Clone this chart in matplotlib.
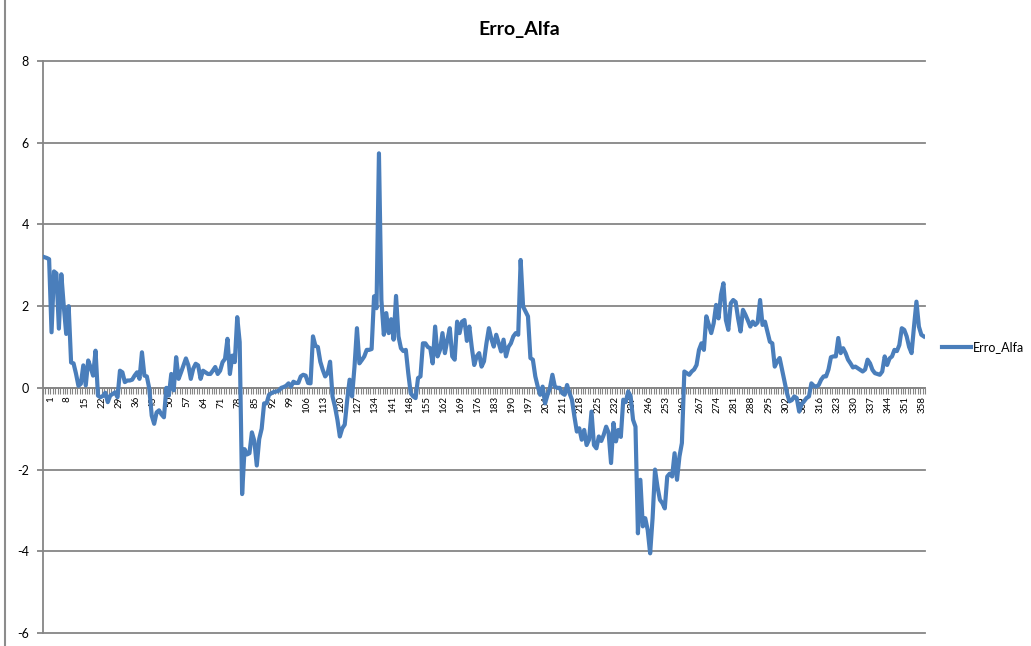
import matplotlib
matplotlib.use("Agg")
import matplotlib.pyplot as plt
import matplotlib.transforms as mtransforms
from matplotlib.lines import Line2D
import numpy as np

plt.rcParams['font.family'] = ['Lato', 'DejaVu Sans']

# Erro_Alfa, one value per observation
erro_alfa = [
    3.2, 3.18, 3.15, 1.36, 2.85, 2.8, 1.45, 2.78, 2.0, 1.32,
    2.0, 0.62, 0.6, 0.35, 0.05, 0.1, 0.55, 0.06, 0.67, 0.5,
    0.3, 0.91, -0.19, -0.23, -0.2, -0.12, -0.35, -0.19, -0.15, -0.11,
    -0.23, 0.42, 0.38, 0.14, 0.18, 0.18, 0.2, 0.3, 0.38, 0.22,
    0.87, 0.3, 0.28, -0.02, -0.68, -0.88, -0.6, -0.55, -0.65, -0.72,
    0.0, -0.19, 0.34, -0.06, 0.75, 0.22, 0.38, 0.55, 0.72, 0.55,
    0.22, 0.47, 0.59, 0.55, 0.22, 0.42, 0.38, 0.34, 0.34, 0.42,
    0.51, 0.34, 0.42, 0.63, 0.71, 1.2, 0.34, 0.79, 0.63, 1.73,
    1.12, -2.6, -1.5, -1.63, -1.6, -1.09, -1.3, -1.9, -1.25, -1.0,
    -0.38, -0.38, -0.17, -0.13, -0.1, -0.09, -0.07, 0.0, 0.02, 0.05,
    0.11, 0.03, 0.15, 0.12, 0.12, 0.28, 0.32, 0.3, 0.12, 0.11,
    1.26, 1.03, 1.0, 0.64, 0.44, 0.28, 0.36, 0.64, -0.21, -0.46,
    -0.78, -1.19, -0.99, -0.9, -0.3, 0.2, -0.21, 0.52, 1.46, 0.6,
    0.68, 0.77, 0.93, 0.93, 0.95, 2.24, 1.95, 5.74, 2.15, 1.3,
    1.83, 1.34, 1.68, 1.18, 2.25, 1.26, 0.97, 0.9, 0.93, 0.36,
    -0.13, -0.21, -0.25, 0.24, 0.28, 1.09, 1.09, 1.0, 0.97, 0.6,
    1.5, 0.77, 0.93, 1.34, 0.85, 1.17, 1.46, 0.77, 0.69, 1.62,
    1.34, 1.62, 1.66, 1.15, 1.5, 0.99, 0.56, 0.77, 0.85, 0.52,
    0.65, 1.09, 1.46, 1.2, 1.01, 1.3, 1.1, 0.89, 1.18, 0.77,
    1.0, 1.09, 1.26, 1.34, 1.3, 3.13, 1.99, 1.87, 1.75, 0.73,
    0.69, 0.28, 0.03, -0.17, 0.03, -0.38, -0.17, 0.0, 0.32, 0.03,
    0.0, 0.0, -0.13, -0.17, 0.07, -0.13, -0.29, -0.7, -1.07, -0.99,
    -1.27, -1.03, -1.4, -1.27, -0.58, -1.4, -1.48, -1.19, -1.3, -1.15,
    -0.95, -1.1, -1.84, -0.86, -1.31, -1.03, -1.2, -0.29, -0.35, -0.09,
    -0.2, -0.78, -0.95, -3.56, -2.25, -3.39, -3.19, -3.48, -4.05, -3.19,
    -2.0, -2.42, -2.74, -2.82, -2.95, -2.17, -2.1, -2.17, -1.6, -2.25,
    -1.68, -1.35, 0.4, 0.36, 0.32, 0.4, 0.45, 0.56, 0.93, 1.09,
    0.93, 1.75, 1.55, 1.34, 1.58, 2.03, 1.7, 2.28, 2.56, 1.66,
    1.42, 2.07, 2.15, 2.1, 1.7, 1.38, 1.91, 1.79, 1.65, 1.5,
    1.62, 1.54, 1.6, 2.15, 1.54, 1.62, 1.38, 1.13, 1.09, 0.52,
    0.65, 0.73, 0.44, 0.16, -0.13, -0.33, -0.3, -0.21, -0.25, -0.58,
    -0.4, -0.33, -0.25, -0.21, 0.11, 0.05, 0.03, 0.07, 0.2, 0.28,
    0.28, 0.45, 0.75, 0.77, 0.77, 1.22, 0.85, 0.97, 0.85, 0.69,
    0.6, 0.5, 0.52, 0.48, 0.44, 0.4, 0.45, 0.69, 0.6, 0.44,
    0.36, 0.34, 0.32, 0.4, 0.77, 0.56, 0.72, 0.77, 0.93, 0.9,
    1.05, 1.46, 1.42, 1.26, 1.0, 0.85, 1.5, 2.11, 1.5, 1.3,
    1.26,
]
categories = list(range(1, len(erro_alfa) + 1))
label_step = 7
y_ticks = [-6, -4, -2, 0, 2, 4, 6, 8]

grey = '#868686'
blue = '#4a7ebb'

W, H = 1031, 646
fig = plt.figure(figsize=(W / 100, H / 100), dpi=100)
ax = fig.add_axes([43 / W, 1 - 633 / H, (925 - 43) / W, (633 - 61) / H])

x = np.arange(len(erro_alfa))
ax.plot(x, erro_alfa, color=blue, lw=3.0, label='Erro_Alfa',
        solid_joinstyle='round', zorder=3)

ax.set_xlim(-0.5, len(erro_alfa) - 0.5)
ax.set_ylim(y_ticks[0], y_ticks[-1])
ax.set_yticks(y_ticks)
ax.set_yticklabels([str(v) for v in y_ticks], fontsize=9)
ax.yaxis.grid(True, color=grey, lw=1.3)
for gl in ax.get_ygridlines():
    gl.set_clip_on(False)
ax.set_axisbelow(True)
ax.tick_params(axis='y', direction='out', length=4, width=1.3, color=grey, pad=6)

for side in ('top', 'right'):
    ax.spines[side].set_visible(False)
ax.spines['left'].set_color(grey)
ax.spines['left'].set_linewidth(1.3)
ax.spines['bottom'].set_position(('data', 0))
ax.spines['bottom'].set_color(grey)
ax.spines['bottom'].set_linewidth(1.3)

# category axis: a tick between every category, a label every 7th
ax.set_xticks(x[::label_step])
ax.set_xticklabels([str(c) for c in categories[::label_step]],
                   rotation=90, fontsize=7)
ax.set_xticks(np.arange(-0.5, len(erro_alfa)), minor=True)
ax.tick_params(axis='x', which='major', length=0, pad=6)
ax.tick_params(axis='x', which='minor', direction='out', length=4,
               width=0.8, color=grey)
shift = mtransforms.ScaledTranslation(6 / 100, 0, fig.dpi_scale_trans)
for lbl in ax.get_xticklabels():
    lbl.set_transform(lbl.get_transform() + shift)

fig.text(0.504, 0.954, 'Erro_Alfa', ha='center', va='center',
         fontsize=14, fontweight='bold')

fig.legend(loc='center left', bbox_to_anchor=(942 / W, 1 - 347 / H),
           frameon=False, fontsize=9, handlelength=2.3, handletextpad=0.15,
           borderpad=0, borderaxespad=0)

fig.add_artist(Line2D([5 / W, 5 / W], [0, 1], color='#8c8c8c', lw=1.5,
                      transform=fig.transFigure))

fig.savefig('out.png', dpi=100)
